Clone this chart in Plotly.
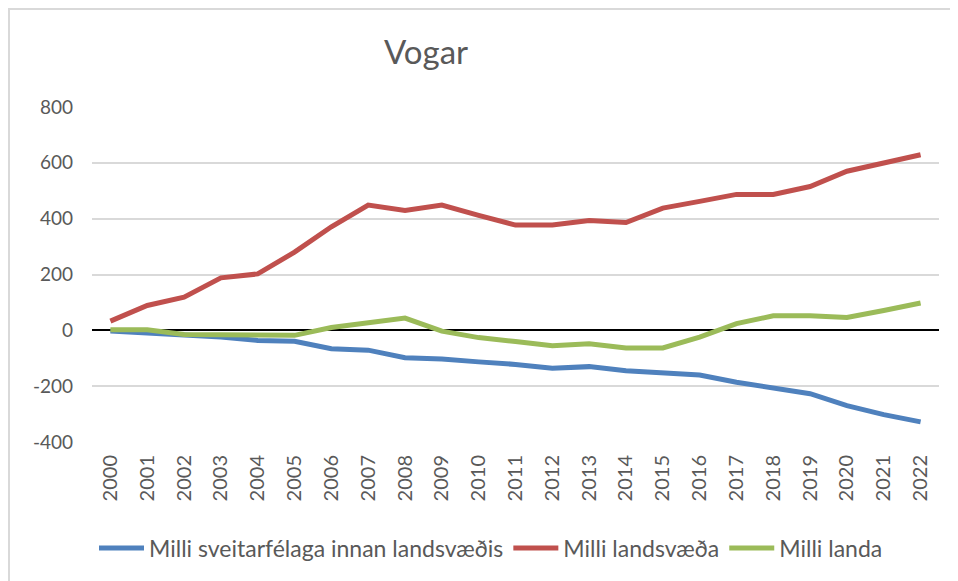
import plotly.graph_objects as go

years = [str(y) for y in range(2000, 2023)]
innan_landsvaedis = [-2, -9, -15, -24, -36, -39, -66, -71, -98, -103, -113, -122, -136, -130, -145, -154, -160, -186, -207, -227, -270, -302, -328]
milli_landsvaeda = [33, 89, 119, 188, 202, 280, 371, 449, 429, 449, 412, 377, 377, 393, 386, 438, 462, 487, 487, 515, 570, 601, 629]
milli_landa = [2, 2, -15, -17, -18, -18, 10, 27, 44, -3, -26, -40, -55, -48, -63, -63, -24, 24, 52, 52, 46, 71, 98]
y_ticks = [-400, -200, 0, 200, 400, 600, 800]
y_tick_labels = ["-400", "-200", "0", "200", "400", "600", "800"]

names = ["Milli sveitarfélaga innan landsvæðis", "Milli landsvæða", "Milli landa"]
colors = ["#4F81BD", "#C0504D", "#9BBB59"]
series = [innan_landsvaedis, milli_landsvaeda, milli_landa]

fig = go.Figure()
for n, c, s in zip(names, colors, series):
    fig.add_trace(go.Scatter(x=years, y=s, name=n, mode="lines",
                             line=dict(color=c, width=5)))

# page body has an 8px margin; figure coordinates = page coordinates - 8
OFF = 8
W, H = 958 - OFF, 581 - OFF
L, R, T, B = 92 - OFF, 958 - 939, 107 - OFF, 581 - 442
pw, ph = W - L - R, H - T - B

def px_x(x):
    return (x - OFF - L) / pw

def px_y(y):
    return (H - B - (y - OFF)) / ph

font = "Lato, 'Open Sans', sans-serif"
fig.update_layout(
    width=W, height=H,
    margin=dict(l=L, r=R, t=T, b=B, autoexpand=False),
    paper_bgcolor="white", plot_bgcolor="white",
    font=dict(family=font, color="#595959", size=20),
    showlegend=True,
    legend=dict(orientation="h", x=px_x(491), xanchor="center", y=px_y(548), yanchor="middle",
                font=dict(size=23, color="#595959"), tracegroupgap=0, itemwidth=45),
    xaxis=dict(type="category", range=[-0.5, 22.5], showgrid=False, zeroline=False, showline=False,
               tickangle=-90, tickfont=dict(size=20, color="#595959"), automargin=False,
               ticks="", ticklabelstandoff=8, fixedrange=True),
    yaxis=dict(range=[-400, 800], tickvals=y_ticks, ticktext=y_tick_labels,
               showgrid=True, gridcolor="#d9d9d9", gridwidth=1.5, automargin=False,
               zeroline=True, zerolinecolor="#000000", zerolinewidth=1.5, showline=False,
               tickfont=dict(size=19, color="#595959"), ticks="", ticklabelstandoff=18),
    annotations=[dict(text="Vogar", x=px_x(426), y=px_y(51), xref="paper", yref="paper",
                      showarrow=False, xanchor="center", yanchor="middle",
                      font=dict(size=33, color="#595959", family=font))],
    shapes=[dict(type="rect", xref="paper", yref="paper",
                 x0=px_x(9), x1=px_x(1000), y0=px_y(640), y1=px_y(9),
                 line=dict(color="#d9d9d9", width=2), fillcolor="rgba(0,0,0,0)", layer="below")],
)

fig.write_html("out.html")
